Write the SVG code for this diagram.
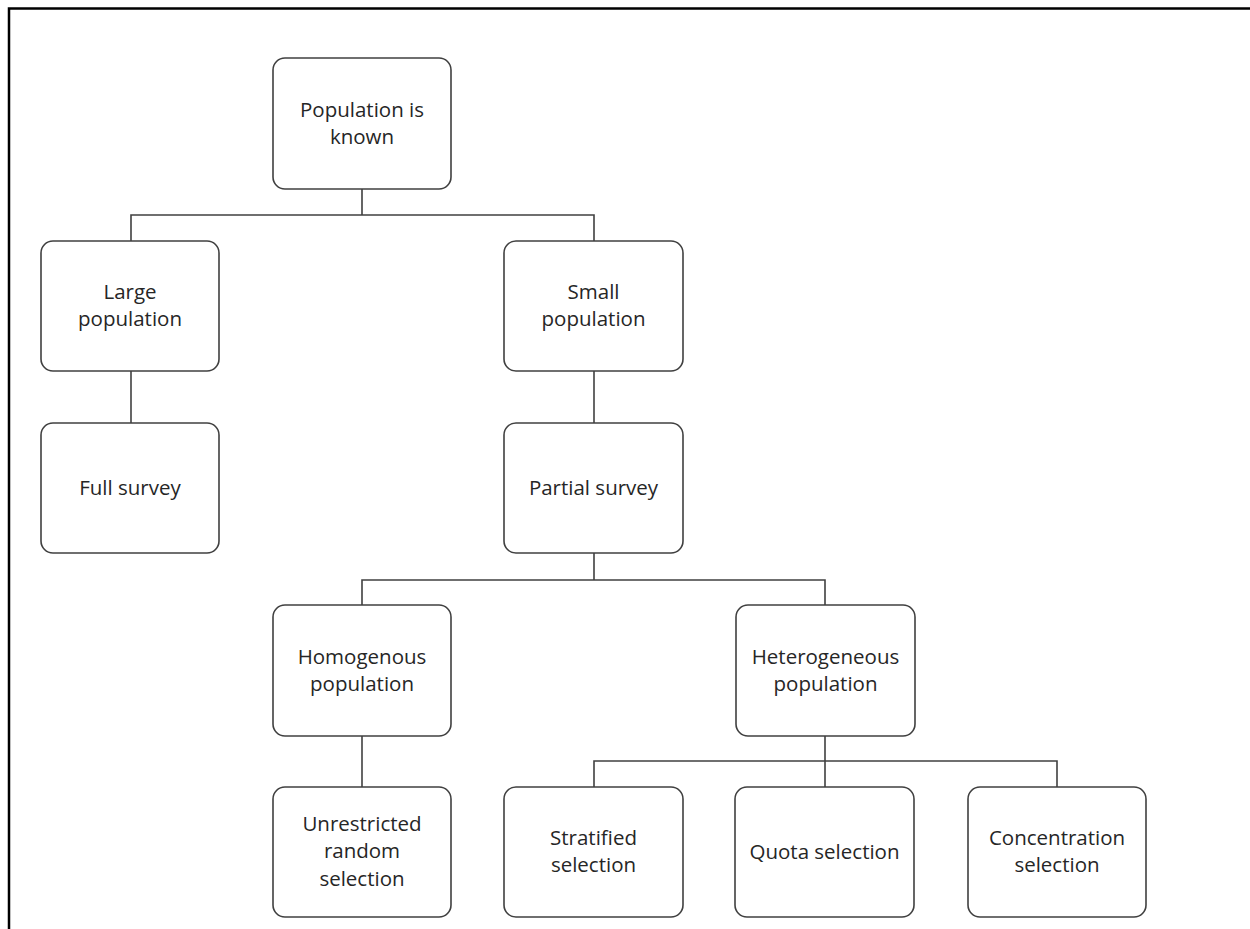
<svg xmlns="http://www.w3.org/2000/svg" width="1250" height="929" viewBox="0 0 1250 929">
  <style>
    .box { fill: #ffffff; stroke: #404040; stroke-width: 1.6; }
    .wire { fill: none; stroke: #404040; stroke-width: 1.6; }
    .frame { fill: none; stroke: #000000; stroke-width: 2.5; }
    .lbl { font-family: "Open Sans", "Liberation Sans", sans-serif; font-size: 20.5px; fill: #262626; text-anchor: middle; }
  </style>
  <rect x="0" y="0" width="1250" height="929" fill="#ffffff"/>
  <!-- page frame (open on the right and bottom) -->
  <path class="frame" d="M9 929 V8.5 H1250"/>

  <g id="connectors">
    <path class="wire" d="M362 189 V215 M131 241 V215 H594 V241"/>
    <path class="wire" d="M131 371 V423"/>
    <path class="wire" d="M594 371 V423"/>
    <path class="wire" d="M594 553 V580 M362 605 V580 H825 V605"/>
    <path class="wire" d="M362 736 V787"/>
    <path class="wire" d="M825 736 V787 M594 787 V761 H1057 V787"/>
  </g>

  <g id="n-known">
    <rect class="box" x="273" y="58" width="178" height="131" rx="12"/>
    <text class="lbl" x="362" y="117">Population is</text>
    <text class="lbl" x="362" y="144">known</text>
  </g>
  <g id="n-large">
    <rect class="box" x="41" y="241" width="178" height="130" rx="12"/>
    <text class="lbl" x="130" y="299">Large</text>
    <text class="lbl" x="130" y="326">population</text>
  </g>
  <g id="n-small">
    <rect class="box" x="504" y="241" width="179" height="130" rx="12"/>
    <text class="lbl" x="593.5" y="299">Small</text>
    <text class="lbl" x="593.5" y="326">population</text>
  </g>
  <g id="n-full">
    <rect class="box" x="41" y="423" width="178" height="130" rx="12"/>
    <text class="lbl" x="130" y="495">Full survey</text>
  </g>
  <g id="n-partial">
    <rect class="box" x="504" y="423" width="179" height="130" rx="12"/>
    <text class="lbl" x="593.5" y="495">Partial survey</text>
  </g>
  <g id="n-homogenous">
    <rect class="box" x="273" y="605" width="178" height="131" rx="12"/>
    <text class="lbl" x="362" y="664">Homogenous</text>
    <text class="lbl" x="362" y="691">population</text>
  </g>
  <g id="n-heterogeneous">
    <rect class="box" x="736" y="605" width="179" height="131" rx="12"/>
    <text class="lbl" x="825.5" y="664">Heterogeneous</text>
    <text class="lbl" x="825.5" y="691">population</text>
  </g>
  <g id="n-unrestricted">
    <rect class="box" x="273" y="787" width="178" height="130" rx="12"/>
    <text class="lbl" x="362" y="831">Unrestricted</text>
    <text class="lbl" x="362" y="858">random</text>
    <text class="lbl" x="362" y="885.5">selection</text>
  </g>
  <g id="n-stratified">
    <rect class="box" x="504" y="787" width="179" height="130" rx="12"/>
    <text class="lbl" x="593.5" y="845">Stratified</text>
    <text class="lbl" x="593.5" y="872">selection</text>
  </g>
  <g id="n-quota">
    <rect class="box" x="735" y="787" width="179" height="130" rx="12"/>
    <text class="lbl" x="824.5" y="859">Quota selection</text>
  </g>
  <g id="n-concentration">
    <rect class="box" x="968" y="787" width="178" height="130" rx="12"/>
    <text class="lbl" x="1057" y="845">Concentration</text>
    <text class="lbl" x="1057" y="872">selection</text>
  </g>
</svg>
